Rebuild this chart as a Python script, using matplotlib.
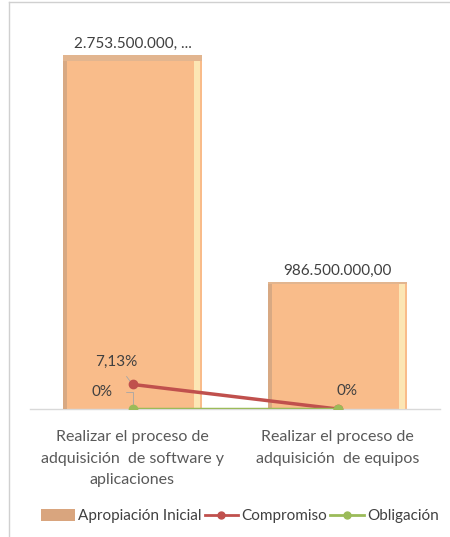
import matplotlib
matplotlib.use("Agg")
import matplotlib.pyplot as plt
from matplotlib.lines import Line2D
from matplotlib.patches import Patch

plt.rcParams['font.family'] = ['Lato', 'DejaVu Sans']

categories = ["Realizar el proceso de\nadquisición  de software y\naplicaciones",
              "Realizar el proceso de\nadquisición  de equipos"]
apropiacion = [2753500000.00, 986500000.00]
bar_labels = ["2.753.500.000, ...", "986.500.000,00"]
compromiso = [0.0713, 0.0]
obligacion = [0.0, 0.0]
compromiso_labels = ["7,13%", None]
obligacion_labels = ["0%", "0%"]

W, H = 450, 537
fig = plt.figure(figsize=(W / 100, H / 100), dpi=100)
fig.patch.set_facecolor('white')

def fx(px):
    return px / W

def fy(py):
    return 1 - py / H

# outer border (chart frame)
fig.add_artist(Line2D([fx(9), fx(9)], [fy(2), fy(537)], color='#D0D0D0', lw=1.0))
fig.add_artist(Line2D([fx(9), fx(450)], [fy(2), fy(2)], color='#D0D0D0', lw=1.0))

ax = fig.add_axes([fx(30), fy(409), fx(440) - fx(30), fy(23) - fy(409)])
x = list(range(len(categories)))
bw = 0.675

bar_face = '#F9BC8A'
ax.bar(x, apropiacion, width=bw, color=bar_face, edgecolor='none', zorder=2)
# bevel effect: darker left/top edge, light right edge
ax.bar([xi - bw / 2 + 0.01 for xi in x], apropiacion, width=0.02, color='#D8A983',
       edgecolor='none', zorder=3)
ax.bar([xi + bw / 2 - 0.022 for xi in x], apropiacion, width=0.03, color='#FCE6B4',
       edgecolor='none', zorder=3)
ax.bar(x, [v * 0.018 for v in apropiacion], bottom=[v * 0.982 for v in apropiacion],
       width=bw, color='#E2B58F', edgecolor='none', zorder=3)

ax.set_xlim(-0.5, 1.5)
ax.set_ylim(0, 3.0e9)
for s in ['top', 'right', 'left']:
    ax.spines[s].set_visible(False)
ax.spines['bottom'].set_color('#D9D9D9')
ax.spines['bottom'].set_linewidth(1.0)
ax.set_yticks([])
ax.set_xticks(x)
ax.set_xticklabels(categories, fontsize=11.5, color='#595959', linespacing=1.7)
ax.tick_params(axis='x', length=0, pad=15)

for xi, v, lab in zip(x, apropiacion, bar_labels):
    ax.annotate(lab, (xi, v), xytext=(0, 3), textcoords='offset points',
                ha='center', va='bottom', fontsize=11, color='#404040')

ax2 = ax.twinx()
ax2.set_ylim(0, 1.12)
ax2.set_yticks([])
for s in ax2.spines.values():
    s.set_visible(False)
ax2.plot(x, compromiso, color='#C0504D', lw=2.5, marker='o', ms=6, zorder=5)
ax2.plot(x, obligacion, color='#9BBB59', lw=2.5, marker='o', ms=6, zorder=6)

for xi, v, lab in zip(x, compromiso, compromiso_labels):
    if lab:
        ax2.annotate(lab, (xi, v), xytext=(-12, 16), textcoords='offset points',
                     ha='center', va='center', fontsize=11, color='#404040',
                     arrowprops=dict(arrowstyle='-', color='#A6A6A6', lw=0.6,
                                     shrinkA=4, shrinkB=3))
for i, (xi, v, lab) in enumerate(zip(x, obligacion, obligacion_labels)):
    if lab:
        if i == 0:
            ax2.annotate(lab, (xi, v), xytext=(-22, 12), textcoords='offset points',
                         ha='center', va='center', fontsize=11, color='#404040',
                         arrowprops=dict(arrowstyle='-', color='#A6A6A6', lw=0.6,
                                         shrinkA=8, shrinkB=3,
                                         connectionstyle='angle,angleA=0,angleB=90'))
        else:
            ax2.annotate(lab, (xi, v), xytext=(7, 13), textcoords='offset points',
                         ha='center', va='center', fontsize=11, color='#404040')

handles = [Patch(facecolor='#D9A57E', edgecolor='none'),
           Line2D([], [], color='#C0504D', lw=2, marker='o', ms=5),
           Line2D([], [], color='#9BBB59', lw=2, marker='o', ms=5)]
fig.legend(handles, ["Apropiación Inicial", "Compromiso", "Obligación"],
           loc='center', bbox_to_anchor=(fx(240), fy(516)), ncol=3, frameon=False,
           fontsize=11, labelcolor='#404040', handlelength=2.2, handletextpad=0.2,
           columnspacing=0.2, handleheight=0.8, borderpad=0.1)

fig.savefig('out.png', dpi=100, facecolor='white')
